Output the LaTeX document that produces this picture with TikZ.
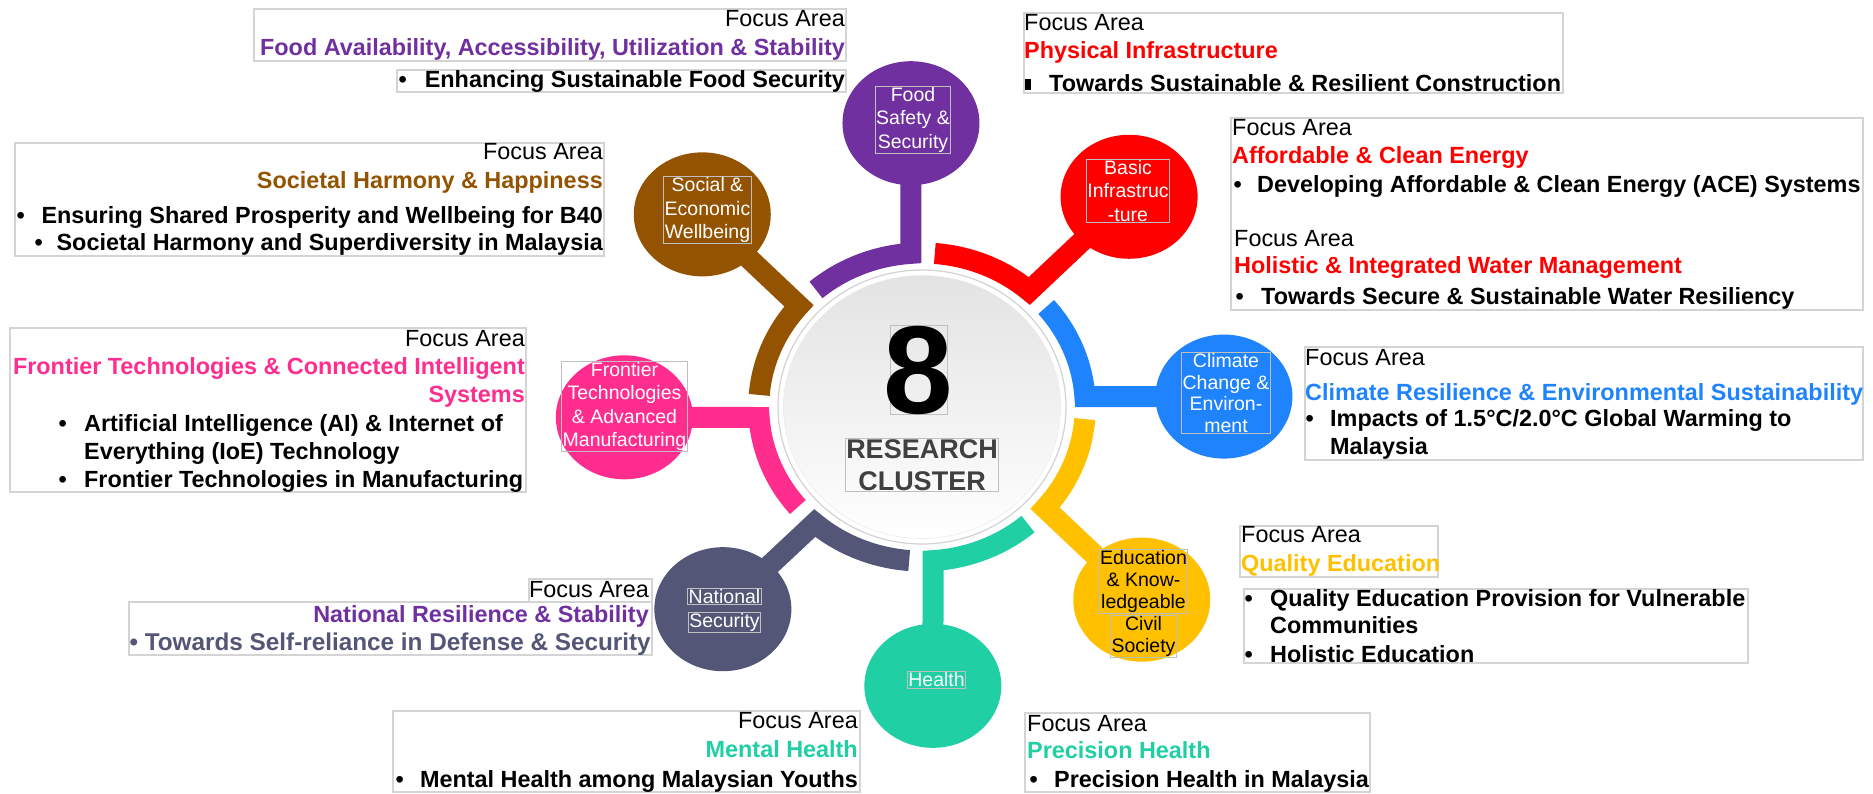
\documentclass[tikz,border=0pt]{standalone}
\usepackage{fontspec}
\setmainfont{Liberation Sans}
\usetikzlibrary{shapes.geometric}
\definecolor{cPurple}{HTML}{7030A0}
\definecolor{cRed}{HTML}{FF0000}
\definecolor{cBlue}{HTML}{1F83FE}
\definecolor{cGold}{HTML}{FFC000}
\definecolor{cTeal}{HTML}{20CFA4}
\definecolor{cSlate}{HTML}{545677}
\definecolor{cPink}{HTML}{FF2D8E}
\definecolor{cBrown}{HTML}{945300}
\definecolor{boxgray}{HTML}{D4D4D4}
\definecolor{cbox}{HTML}{BFBFBF}
\definecolor{dgray}{HTML}{404040}
\begin{document}
\begin{tikzpicture}[x=1pt,y=-1pt,
  tbox/.style={draw=boxgray, line width=1.2pt},
  fa/.style={inner sep=0pt, font=\fontsize{23.4}{28}\selectfont},
  bt/.style={inner sep=0pt, font=\bfseries\fontsize{23.4}{28}\selectfont},
  seg/.style={line width=21pt, line join=miter},
  blob/.style={ellipse, minimum width=137pt, minimum height=124pt, inner sep=0pt},
  ctext/.style={draw=cbox, line width=0.8pt, inner sep=1pt, align=center, text=white, font=\fontsize{19.5}{23.5}\selectfont},
]
\useasboundingbox (0,0) rectangle (1873,793);
\fill[white] (0,0) rectangle (1873,793);

% ---------- ring segments with spokes ----------
\begin{scope}[shift={(922,407)},xscale=1.06]
\coordinate (jClim) at (-3.91:154);
\coordinate (cClim) at (-2.1:285);
\coordinate (jBasic) at (-48.91:154);
\coordinate (cBasic) at (-47.1:287);
\coordinate (jFood) at (-93.91:154);
\coordinate (cFood) at (-92.1:284);
\coordinate (jSoc) at (-138.91:154);
\coordinate (cSoc) at (-137.1:283);
\coordinate (jFront) at (-183.91:154);
\coordinate (cFront) at (-182.1:281);
\coordinate (jNat) at (-228.91:154);
\coordinate (cNat) at (-227.1:276);
\coordinate (jHealth) at (-273.91:154);
\coordinate (cHealth) at (-272.1:279);
\coordinate (jEdu) at (-318.91:154);
\coordinate (cEdu) at (-317.1:283);
\draw[seg, cBlue] (cClim) -- (jClim) arc[start angle=-3.91, end angle=-40.5, radius=154];
\draw[seg, cRed] (cBasic) -- (jBasic) arc[start angle=-48.91, end angle=-85.5, radius=154];
\draw[seg, cPurple] (cFood) -- (jFood) arc[start angle=-93.91, end angle=-130.5, radius=154];
\draw[seg, cBrown] (cSoc) -- (jSoc) arc[start angle=-138.91, end angle=-175.5, radius=154];
\draw[seg, cPink] (cFront) -- (jFront) arc[start angle=-183.91, end angle=-220.5, radius=154];
\draw[seg, cSlate] (cNat) -- (jNat) arc[start angle=-228.91, end angle=-265.5, radius=154];
\draw[seg, cTeal] (cHealth) -- (jHealth) arc[start angle=-273.91, end angle=-310.5, radius=154];
\draw[seg, cGold] (cEdu) -- (jEdu) arc[start angle=-318.91, end angle=-355.5, radius=154];
\end{scope}

% ---------- cluster circles ----------
\node[blob, fill=cBlue] (climc) at (cClim) {};
\node[blob, fill=cRed] (basicc) at (cBasic) {};
\node[blob, fill=cPurple] (foodc) at (cFood) {};
\node[blob, fill=cBrown] (socc) at (cSoc) {};
\node[blob, fill=cPink] (frontc) at (cFront) {};
\node[blob, fill=cSlate] (natc) at (cNat) {};
\node[blob, fill=cTeal] (healthc) at (cHealth) {};
\node[blob, fill=cGold] (educ) at (cEdu) {};

% ---------- centre ----------
\node[ellipse, minimum width=288pt, minimum height=274pt, fill=white, draw=gray!35, line width=1.2pt] (core) at (922,407) {};
\node[ellipse, minimum width=277pt, minimum height=263pt, top color=gray!22, bottom color=white, draw=gray!15, line width=0.6pt] (corein) at (922,407) {};
\node[draw=cbox, line width=0.8pt, inner sep=0pt, font=\bfseries\fontsize{125}{125}\selectfont] (eight) at (918.5,370) {\makebox[57pt]{8}};
\node[draw=cbox, line width=0.8pt, inner sep=1pt, align=center, text=dgray, font=\bfseries\fontsize{27}{32}\selectfont] (rc) at (922,465) {RESEARCH\\CLUSTER};

% ---------- circle labels ----------
\node[ctext] (foodt) at (913,119.5) {Food\\Safety \&\\Security};
\node[ctext] (basict) at (1128,191) {Basic\\Infrastruc\\-ture};
\node[ctext, font=\fontsize{19.5}{21.5}\selectfont] (climt) at (1226,393) {Climate\\Change \&\\Environ-\\ment};
\node[ctext, text=black, font=\fontsize{19.5}{22}\selectfont] (edut1) at (1143.5,581.5) {Education\\\& Know-\\ledgeable};
\node[ctext, text=black, font=\fontsize{19.5}{22}\selectfont] (edut2) at (1143.5,636.5) {Civil\\Society};
\node[ctext] (healtht) at (936.5,680) {Health};
\node[ctext] (natt1) at (724.5,596.5) {National};
\node[ctext] (natt2) at (724.5,622.5) {Security};
\node[ctext] (frontt) at (624.5,406.5) {Frontier\\Technologies\\\& Advanced\\Manufacturing};
\node[ctext] (soct) at (707.5,210) {Social \&\\Economic\\Wellbeing};

% ---------- Food box ----------
\draw[tbox] (254,9) rectangle (846,61);
\draw[tbox] (397,70) rectangle (846,92);
\node[fa, anchor=base east] (foodfa) at (845,26) {Focus Area};
\node[bt, anchor=base east, text=cPurple] (foodttl) at (845,55) {Food Availability, Accessibility, Utilization \& Stability};
\node[bt, anchor=base west] (foodb1) at (398.5,87) {•};
\node[bt, anchor=base east] (foodl1) at (845,87) {Enhancing Sustainable Food Security};

% ---------- Societal box ----------
\draw[tbox] (15,143) rectangle (604,256);
\node[fa, anchor=base east] (socfa) at (603,159) {Focus Area};
\node[bt, anchor=base east, text=cBrown] (socttl) at (603,188) {Societal Harmony \& Happiness};
\node[bt, anchor=base west] (socb1) at (16.5,223) {•};
\node[bt, anchor=base east] (socl1) at (603,223) {Ensuring Shared Prosperity and Wellbeing for B40};
\node[bt, anchor=base west] (socb2) at (34.5,250) {•};
\node[bt, anchor=base east] (socl2) at (603,250) {Societal Harmony and Superdiversity in Malaysia};

% ---------- Physical box ----------
\draw[tbox] (1024,13) rectangle (1563,93);
\node[fa, anchor=base west] (phyfa) at (1024,30) {Focus Area};
\node[bt, anchor=base west, text=cRed] (phyttl) at (1024,58) {Physical Infrastructure};
\node[inner sep=0pt, anchor=base west] (phyb1) at (1024.5,91) {\rule[1pt]{6.5pt}{11pt}};
\node[bt, anchor=base west] (phyl1) at (1049,91) {Towards Sustainable \& Resilient Construction};

% ---------- Energy / Water box ----------
\draw[tbox] (1231,118) rectangle (1863,310);
\node[fa, anchor=base west] (enfa) at (1232,135) {Focus Area};
\node[bt, anchor=base west, text=cRed] (enttl) at (1232,163) {Affordable \& Clean Energy};
\node[bt, anchor=base west] (enb1) at (1233.5,192) {•};
\node[bt, anchor=base west] (enl1) at (1257,192) {Developing Affordable \& Clean Energy (ACE) Systems};
\node[fa, anchor=base west] (wafa) at (1234,246) {Focus Area};
\node[bt, anchor=base west, text=cRed] (wattl) at (1234,273) {Holistic \& Integrated Water Management};
\node[bt, anchor=base west] (wab1) at (1235.5,304) {•};
\node[bt, anchor=base west] (wal1) at (1261,304) {Towards Secure \& Sustainable Water Resiliency};

% ---------- Climate box ----------
\draw[tbox] (1305,347) rectangle (1863,460);
\node[fa, anchor=base west] (clfa) at (1305,365) {Focus Area};
\node[bt, anchor=base west, text=cBlue] (clttl) at (1305,400) {Climate Resilience \& Environmental Sustainability};
\node[bt, anchor=base west] (clb1) at (1305.5,426) {•};
\node[bt, anchor=base west] (cll1) at (1330,426) {Impacts of 1.5°C/2.0°C Global Warming to};
\node[bt, anchor=base west] (cll2) at (1330,454) {Malaysia};

% ---------- Quality Education box ----------
\draw[tbox] (1240,526) rectangle (1438,577);
\draw[tbox] (1244,589) rectangle (1748,663);
\node[fa, anchor=base west] (edfa) at (1241,542) {Focus Area};
\node[bt, anchor=base west, text=cGold] (edttl) at (1241,571) {Quality Education};
\node[bt, anchor=base west] (edb1) at (1244.5,606) {•};
\node[bt, anchor=base west] (edl1) at (1270,606) {Quality Education Provision for Vulnerable};
\node[bt, anchor=base west] (edl2) at (1270,633) {Communities};
\node[bt, anchor=base west] (edb2) at (1244.5,662) {•};
\node[bt, anchor=base west] (edl3) at (1270,662) {Holistic Education};

% ---------- Frontier box ----------
\draw[tbox] (10,328) rectangle (526,492);
\node[fa, anchor=base east] (frfa) at (525,346) {Focus Area};
\node[bt, anchor=base east, text=cPink] (frttl1) at (525,374) {Frontier Technologies \& Connected Intelligent};
\node[bt, anchor=base east, text=cPink] (frttl2) at (525,402) {Systems};
\node[bt, anchor=base west] (frb1) at (58.5,431) {•};
\node[bt, anchor=base west] (frl1) at (84,431) {Artificial Intelligence (AI) \& Internet of};
\node[bt, anchor=base west] (frl2) at (84,459) {Everything (IoE) Technology};
\node[bt, anchor=base west] (frb2) at (58.5,487) {•};
\node[bt, anchor=base west] (frl3) at (84,487) {Frontier Technologies in Manufacturing};

% ---------- National box ----------
\draw[tbox] (529,579) rectangle (652,602);
\draw[tbox] (129,602) rectangle (652,655);
\node[fa, anchor=base east] (nafa) at (649,597) {Focus Area};
\node[bt, anchor=base east, text=cPurple] (nattl) at (649,622) {National Resilience \& Stability};
\node[bt, anchor=base west, text=cSlate, font=\bfseries\fontsize{24.3}{28}\selectfont] (nab1) at (129.5,650) {•};
\node[bt, anchor=base east, text=cSlate, font=\bfseries\fontsize{24.3}{28}\selectfont] (nal1) at (651,650) {Towards Self-reliance in Defense \& Security};

% ---------- Mental Health box ----------
\draw[tbox] (393,711) rectangle (860,792);
\node[fa, anchor=base east] (mhfa) at (858,728) {Focus Area};
\node[bt, anchor=base east, text=cTeal] (mhttl) at (858,757) {Mental Health};
\node[bt, anchor=base west] (mhb1) at (395.5,787) {•};
\node[bt, anchor=base east] (mhl1) at (858,787) {Mental Health among Malaysian Youths};

% ---------- Precision Health box ----------
\draw[tbox] (1025,713) rectangle (1370,792);
\node[fa, anchor=base west] (phfa) at (1027,731) {Focus Area};
\node[bt, anchor=base west, text=cTeal] (phttl) at (1027,758) {Precision Health};
\node[bt, anchor=base west] (phb1) at (1029.5,787) {•};
\node[bt, anchor=base west] (phl1) at (1054,787) {Precision Health in Malaysia};
\end{tikzpicture}
\end{document}
